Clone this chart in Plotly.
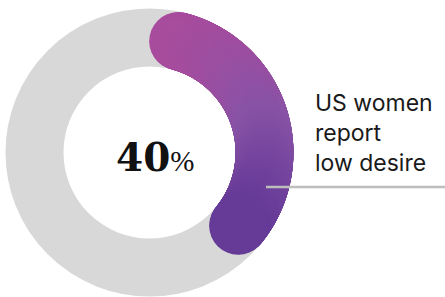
import numpy as np
import plotly.graph_objects as go

# ---- data ----
value_pct = [40]
value_labels = ["40%"]
caption = ["US women", "report", "low desire"]

# ---- style / layout constants ----
W, H = 445, 297
CX, CY = 149.5, 152.5
R_OUT, R_IN = 144, 86
R_MID = (R_OUT + R_IN) / 2
THICK = R_OUT - R_IN
GRAY = "#D8D8D8"

fig = go.Figure()

# background ring (full 100%)
fig.add_shape(type="circle", xref="x", yref="y",
              x0=CX - R_MID, x1=CX + R_MID, y0=CY - R_MID, y1=CY + R_MID,
              line=dict(color=GRAY, width=THICK), fillcolor="rgba(0,0,0,0)", layer="below")

# value arc (with rounded caps, spanning value% of the circle)
v = value_pct[0]
span = np.radians(v * 3.6)
cap = (THICK / 2) / R_MID
theta = np.linspace(cap, span - cap, 400)
xs = CX + R_MID * np.sin(theta)
ys = CY - R_MID * np.cos(theta)
fig.add_trace(go.Scatter(
    x=xs, y=ys, mode="markers",
    marker=dict(size=THICK, color=ys, cmin=12, cmax=255,
                colorscale=[[0, "#B34A9B"], [0.5, "#8853A6"], [1, "#5B3393"]],
                line=dict(width=0), opacity=1),
    hoverinfo="skip", showlegend=False))

# leader line
fig.add_shape(type="line", xref="x", yref="y", x0=266, x1=W, y0=187, y1=187,
              line=dict(color="#BDBDBD", width=2.5), layer="above")

# center value
fig.add_annotation(x=CX + 5, y=157, xref="x", yref="y", showarrow=False,
                   text="<b>" + value_labels[0][:-1] + "</b><span style='font-family:Liberation Serif;font-size:29px'>%</span>",
                   font=dict(family="DejaVu Serif", size=39, color="#111111"),
                   xanchor="center", yanchor="middle")

# caption
fig.add_annotation(x=313, y=133, xref="x", yref="y", showarrow=False,
                   text="<br>".join(caption), align="left",
                   font=dict(family="Inter", size=23, color="#1a1a1a"),
                   xanchor="left", yanchor="middle")

fig.update_layout(width=W, height=H, margin=dict(l=0, r=0, t=0, b=0),
                  paper_bgcolor="white", plot_bgcolor="white",
                  xaxis=dict(range=[0, W], visible=False, fixedrange=True),
                  yaxis=dict(range=[H, 0], visible=False, fixedrange=True),
                  showlegend=False)

fig.write_html("out.html", config={"displayModeBar": False},
               post_script="document.body.style.margin='0';document.body.style.padding='0';")
